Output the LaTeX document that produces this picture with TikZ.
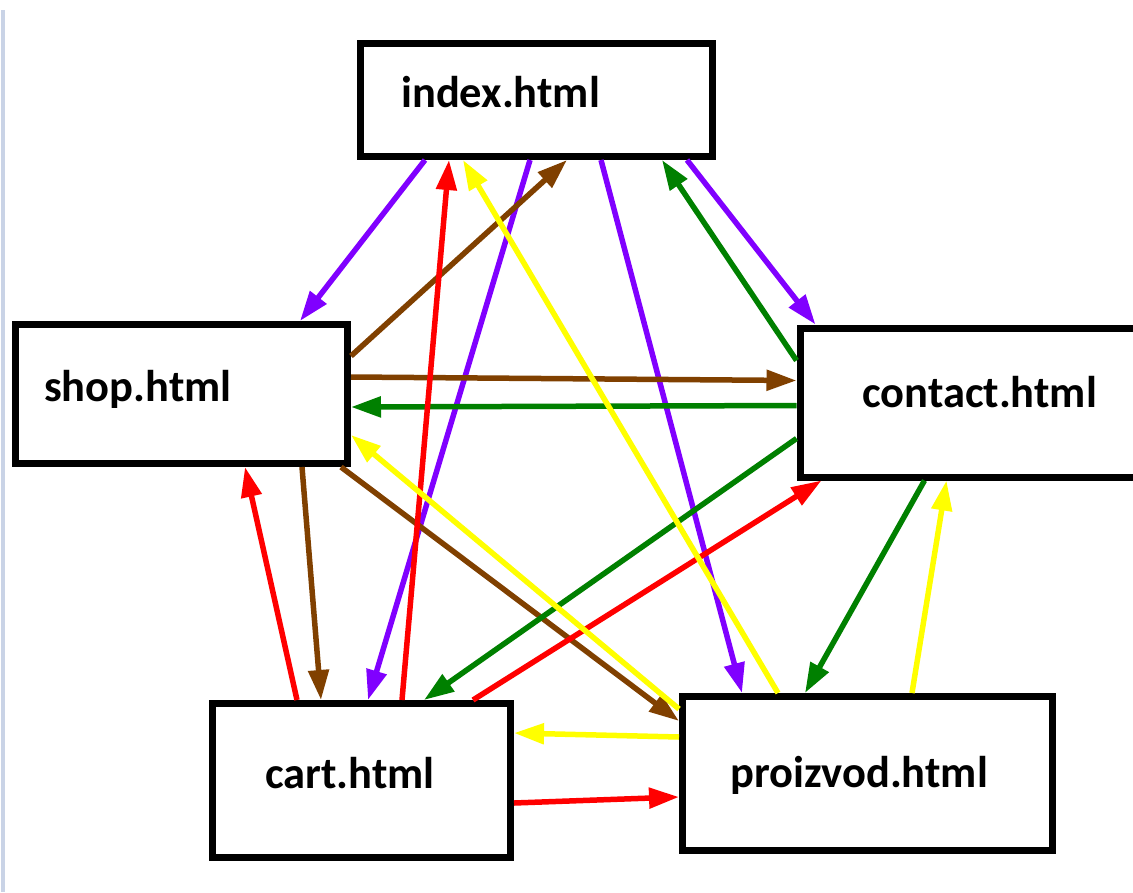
\documentclass[tikz,border=0pt]{standalone}
\usepackage{fontspec}
\setmainfont{Carlito}
\usetikzlibrary{arrows.meta,calc}
\definecolor{cpurple}{HTML}{8000FF}
\definecolor{cbrown}{HTML}{804000}
\definecolor{cgreen}{HTML}{008000}
\definecolor{cred}{HTML}{FF0000}
\definecolor{cyellow}{HTML}{FFFF00}
\definecolor{cside}{HTML}{C9D3E6}
\begin{document}
\begin{tikzpicture}[x=1pt,y=-1pt,
  pagebox/.style={draw=black,line width=7pt,fill=white,inner sep=0pt},
  pagelabel/.style={anchor=base west,inner sep=0pt,font=\fontsize{44.5}{52}\selectfont\bfseries},
  conn/.style={line width=5.5pt,-{Triangle[length=30pt,width=20pt]}}]
\useasboundingbox (0,0) rectangle (1133,892);
\fill[cside] (1,10) rectangle (5,892);
% boxes
\node[pagebox,minimum width=352pt,minimum height=113pt] (index) at (536.5,100) {};
\node[pagebox,minimum width=332pt,minimum height=139pt] (shop) at (181.5,394) {};
\node[pagebox,minimum width=350pt,minimum height=149pt,anchor=north west] (contact) at (796.5,324.5) {};
\node[pagebox,minimum width=298pt,minimum height=154pt] (cart) at (361.5,780.5) {};
\node[pagebox,minimum width=370pt,minimum height=154pt] (proizvod) at (867.5,773.5) {};
% labels
\node[pagelabel] (indext) at (401,107) {index.html};
\node[pagelabel] (shopt) at (44,401) {shop.html};
\node[pagelabel] (contactt) at (862,407) {contact.html};
\node[pagelabel] (cartt) at (265,788) {cart.html};
\node[pagelabel] (proizvodt) at (730,787) {proizvod.html};
% purple
\draw[conn,cpurple] ($(index.south west)+(68,0)$) -- ($(shop.north west)+(288,0)$);
\draw[conn,cpurple] ($(index.south west)+(173,0)$) -- ($(cart.north west)+(159,0)$);
\draw[conn,cpurple] ($(index.south west)+(244,0)$) -- ($(proizvod.north west)+(63,0)$);
\draw[conn,cpurple] ($(index.south west)+(330,0)$) -- ($(contact.north west)+(19,0)$);
% brown
\draw[conn,cbrown] ($(shop.north east)+(0,35)$) -- ($(index.south west)+(210,0)$);
\draw[conn,cbrown] ($(shop.north east)+(0,56)$) -- ($(contact.north west)+(0,56)$);
\draw[conn,cbrown] ($(shop.south west)+(290,0)$) -- ($(cart.north west)+(112,0)$);
\draw[conn,cbrown] ($(shop.south west)+(329,0)$) -- ($(proizvod.north west)+(0,28)$);
% green
\draw[conn,cgreen] ($(contact.north west)+(0,36)$) -- ($(index.south west)+(305,0)$);
\draw[conn,cgreen] ($(contact.north west)+(0,81)$) -- ($(shop.north east)+(0,86)$);
\draw[conn,cgreen] ($(contact.north west)+(0,114)$) -- ($(cart.north west)+(215,0)$);
\draw[conn,cgreen] ($(contact.south west)+(128,0)$) -- ($(proizvod.north west)+(126,0)$);
% red
\draw[conn,cred] ($(cart.north west)+(88,0)$) -- ($(shop.south west)+(233,0)$);
\draw[conn,cred] ($(cart.north west)+(193,0)$) -- ($(index.south west)+(92,0)$);
\draw[conn,cred] ($(cart.north west)+(264,0)$) -- ($(contact.south west)+(25,0)$);
\draw[conn,cred] ($(cart.north east)+(0,103)$) -- ($(proizvod.north west)+(0,104)$);
% yellow
\draw[conn,cyellow] ($(proizvod.north west)+(99,0)$) -- ($(index.south west)+(106,0)$);
\draw[conn,cyellow] ($(proizvod.north west)+(0,16)$) -- ($(shop.north east)+(0,114)$);
\draw[conn,cyellow] ($(proizvod.north west)+(0,44)$) -- ($(cart.north east)+(0,33)$);
\draw[conn,cyellow] ($(proizvod.north west)+(233,0)$) -- ($(contact.south west)+(150,0)$);
\end{tikzpicture}
\end{document}
